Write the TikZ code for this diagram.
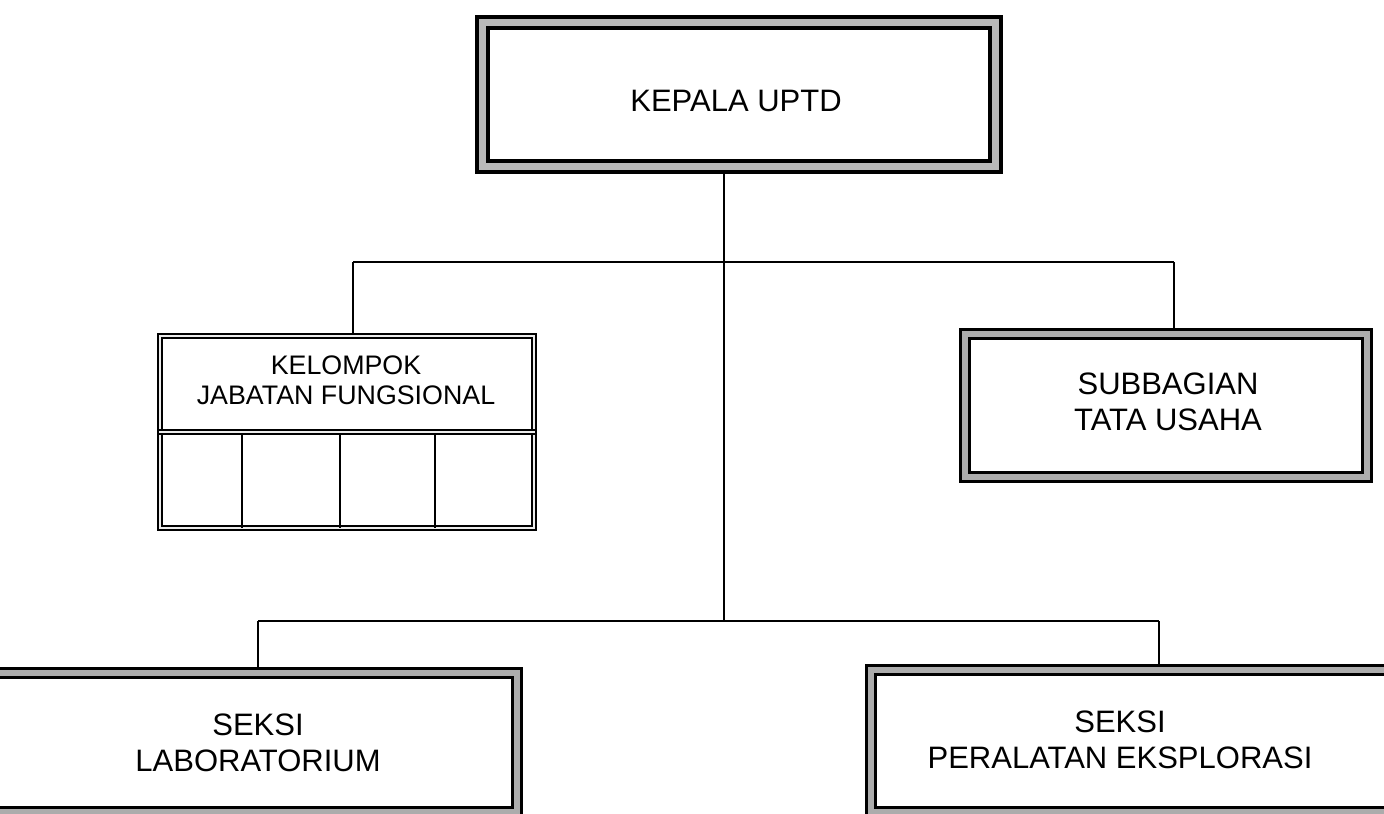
\documentclass[tikz,border=0pt]{standalone}
\usepackage{fontspec}
\setmainfont{Liberation Sans}
\usetikzlibrary{backgrounds,calc}
\pgfdeclarelayer{edgelayer}
\pgfdeclarelayer{nodelayer}
\pgfsetlayers{edgelayer,nodelayer,main}
\tikzset{font=\fontsize{15.5}{18}\selectfont}
\tikzstyle{none}=[inner sep=0pt]
\tikzstyle{txt}=[inner sep=0pt, align=center]
\tikzstyle{frame}=[rectangle, inner sep=0pt, fill=white, draw=black, double=gray!65, line width=1.6pt, double distance=2.8pt]
\tikzstyle{headframe}=[frame, line width=2pt, double distance=3.5pt, double=gray!55]
\tikzstyle{thinframe}=[frame, double=gray!15, line width=0.8pt, double distance=1.2pt]
\tikzstyle{wire}=[line width=0.9pt]

\begin{document}
\begin{tikzpicture}[x=0.5pt, y=-0.5pt]
	\useasboundingbox (0,0) rectangle (1384,813);
	\begin{pgfonlayer}{nodelayer}
		\node [style=headframe, minimum width=256.5pt, minimum height=72pt] (kepala) at (739, 94.5) {};
		\node [style=thinframe, minimum width=187pt, minimum height=96pt] (kjf) at (347, 432) {};
		\node [style=frame, minimum width=201pt, minimum height=71.5pt] (sub) at (1166, 405.5) {};
		\node [style=frame, minimum width=266.5pt, minimum height=69.5pt] (lab) at (250.5, 742.5) {};
		\node [style=frame, minimum width=264.5pt, minimum height=71pt] (eks) at (1135.5, 741) {};
		\draw [double=gray!15, line width=0.8pt, double distance=1.2pt] (kjf.west |- 0,432) to (kjf.east |- 0,432);
		\foreach \cx in {242, 340, 435}
			\draw [line width=0.8pt] (\cx, 433) to (\cx, 528);
		\node [style=txt] (kepalatxt) at (736, 101) {KEPALA UPTD};
		\node [style=txt, font=\fontsize{13.4}{15}\selectfont] (kjftxt) at (346, 380) {KELOMPOK\\JABATAN FUNGSIONAL};
		\node [style=txt] (subtxt) at (1168, 401.5) {SUBBAGIAN\\TATA USAHA};
		\node [style=txt] (labtxt) at (258, 743) {SEKSI\\LABORATORIUM};
		\node [style=txt] (ekstxt) at (1120, 740) {SEKSI\\PERALATAN EKSPLORASI};
	\end{pgfonlayer}
	\begin{pgfonlayer}{edgelayer}
		\coordinate (j1) at (724, 262);
		\coordinate (j2) at (724, 621);
		\coordinate (l1) at (353, 262);
		\coordinate (r1) at (1174, 262);
		\coordinate (l2) at (258, 621);
		\coordinate (r2) at (1159, 621);
		\draw [style=wire] (j1 |- kepala.center) to (j2);
		\draw [style=wire] (l1) to (r1);
		\draw [style=wire] (l1) to (l1 |- kjf.center);
		\draw [style=wire] (r1) to (r1 |- sub.center);
		\draw [style=wire] (l2) to (r2);
		\draw [style=wire] (l2) to (l2 |- lab.center);
		\draw [style=wire] (r2) to (r2 |- eks.center);
	\end{pgfonlayer}
\end{tikzpicture}
\end{document}
